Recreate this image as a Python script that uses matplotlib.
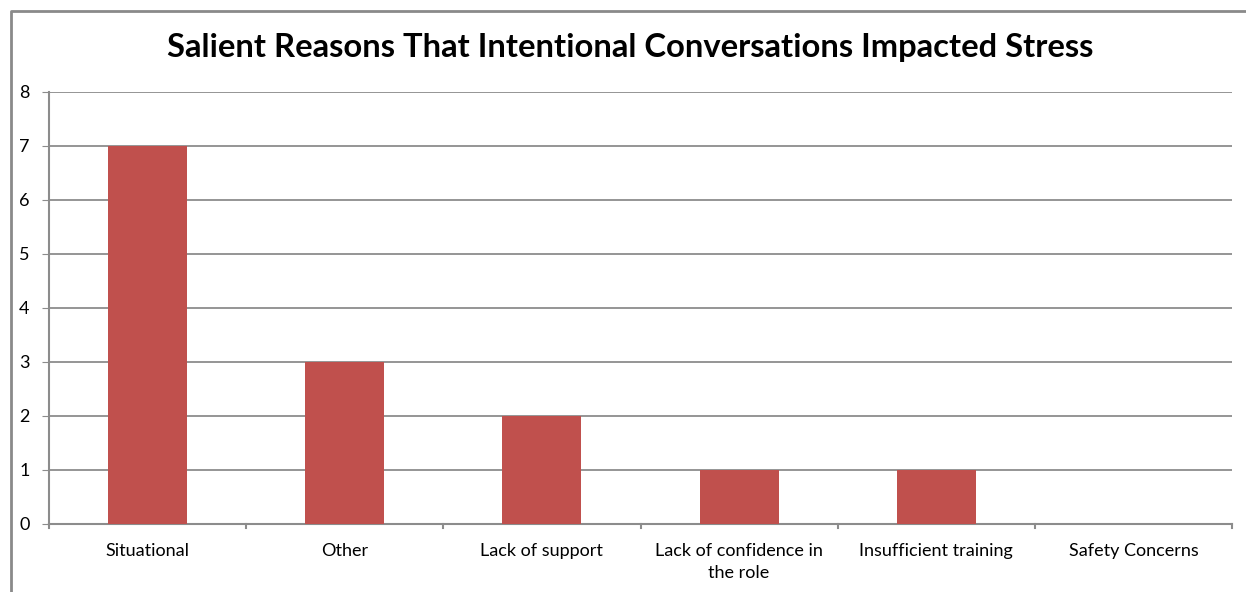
import matplotlib
matplotlib.use("Agg")
import matplotlib.pyplot as plt
from matplotlib.lines import Line2D

# Reason categories and respondent counts
reasons = ["Situational", "Other", "Lack of support",
           "Lack of confidence in\nthe role", "Insufficient training",
           "Safety Concerns"]
counts = [7, 3, 2, 1, 1, 0]
y_ticks = [0, 1, 2, 3, 4, 5, 6, 7, 8]

plt.rcParams['font.family'] = ['Lato', 'DejaVu Sans']

fig = plt.figure(figsize=(12.46, 5.92), dpi=100, facecolor='white')
ax = fig.add_axes([0.0393, 0.1149, 0.9495, 0.7297])

grid_col = '#8c8c8c'
x = list(range(len(reasons)))
ax.bar(x, counts, width=0.4, color='#C0504D', zorder=3)

ax.set_xlim(-0.5, len(reasons) - 0.5)
ax.set_ylim(0, 8)
ax.set_yticks(y_ticks)
ax.set_yticklabels([str(v) for v in y_ticks], fontsize=13)
ax.set_xticks(x)
ax.set_xticklabels(reasons, fontsize=13, linespacing=1.45)
ax.tick_params(axis='x', length=0, pad=14)
ax.tick_params(axis='y', length=5, color=grid_col, pad=9)

# category boundary ticks under the x axis
for b in range(len(reasons) + 1):
    ax.plot([b - 0.5, b - 0.5], [0, -0.08], color=grid_col, lw=1.5,
            clip_on=False, zorder=4)

ax.yaxis.grid(True, color=grid_col, lw=1.3, zorder=0)
for side in ['top', 'right']:
    ax.spines[side].set_visible(False)
ax.spines['left'].set_color(grid_col)
ax.spines['left'].set_linewidth(1.5)
ax.spines['bottom'].set_color(grid_col)
ax.spines['bottom'].set_linewidth(1.5)

fig.text(0.506, 0.92, "Salient Reasons That Intentional Conversations Impacted Stress",
         ha='center', va='center', fontsize=23.6, fontweight='bold')

# chart frame: only the left and top edges fall inside the image
fx = 10.5 / 1246
fy = 1 - 10.5 / 592
fig.lines.append(Line2D([fx, fx, 1.0], [0.0, fy, fy], transform=fig.transFigure,
                        color='#8a8a8a', lw=2))

fig.savefig("out.png", dpi=100, facecolor='white')
